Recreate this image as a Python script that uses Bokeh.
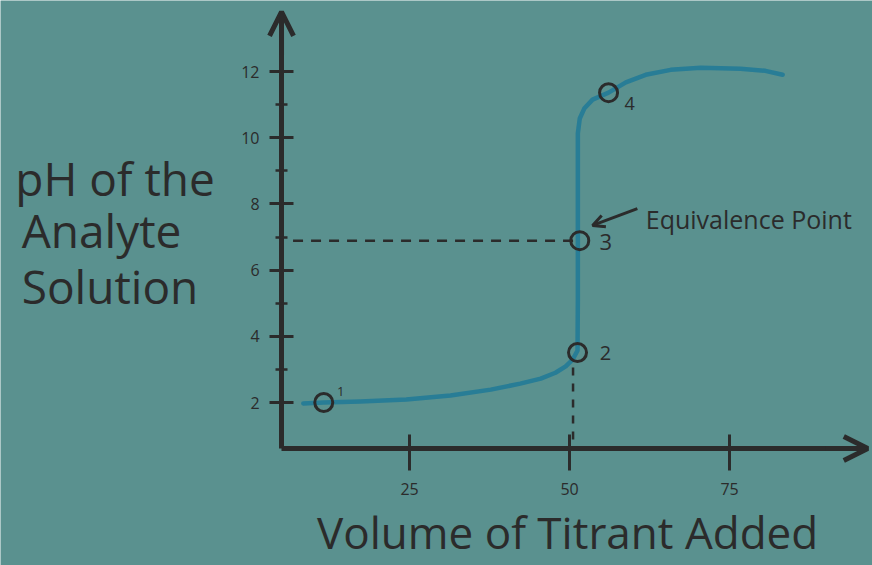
from bokeh.plotting import figure
from bokeh.models import Range1d, LinearAxis, FixedTicker, Arrow, OpenHead
from bokeh.core.properties import value
from bokeh.embed import file_html
from bokeh.resources import INLINE

# ---- data ----
titrant_ml = [8.4, 11.6, 17.3, 24.5, 31.4, 37.7, 42.3, 45.5, 47.8, 49.4, 50.5, 51.25,
              51.3, 51.3, 51.3, 51.3, 51.6, 52.3, 53.6, 56.1, 58.8, 61.9, 65.8, 70.5,
              76.7, 80.6, 83.3]
analyte_ph = [1.97, 2.0, 2.03, 2.09, 2.21, 2.39, 2.57, 2.72, 2.90, 3.09, 3.30, 3.57,
              5.08, 6.89, 8.71, 10.13, 10.58, 10.88, 11.15, 11.36, 11.67, 11.9, 12.05, 12.11,
              12.08, 12.02, 11.9]

point_ml = [11.6, 51.25, 51.6, 56.1]
point_ph = [2.0, 3.51, 6.89, 11.36]
point_labels = ["1", "2", "3", "4"]

x_ticks = [25, 50, 75]
y_ticks = [2, 4, 6, 8, 10, 12]
y_minor = [3, 5, 7, 9, 11]

x_title = "Volume of Titrant Added"
y_title = ["pH of the", "Analyte", "Solution"]
annotation = "Equivalence Point"

# ---- style ----
BG = "#5a918f"
INK = "#2b2b2b"
CURVE = "#287d96"
FONT = "Open Sans"

W, H = 872, 565
p = figure(width=W, height=H, output_backend="svg", toolbar_location=None,
           x_axis_type=None, y_axis_type=None,
           x_range=Range1d(-38.91, 97.34), y_range=Range1d(-2.924, 14.145),
           min_border=0, min_border_left=0, min_border_right=0,
           min_border_top=0, min_border_bottom=0)
p.background_fill_color = BG
p.border_fill_color = BG
p.outline_line_color = None

y_axis_at = 5.0
x_axis_at = 0.61

xaxis = LinearAxis(fixed_location=x_axis_at, bounds=(y_axis_at, 96.5),
                   ticker=FixedTicker(ticks=x_ticks))
yaxis = LinearAxis(fixed_location=y_axis_at, bounds=(x_axis_at, 13.8),
                   ticker=FixedTicker(ticks=y_ticks, minor_ticks=y_minor))
for ax in (xaxis, yaxis):
    ax.axis_line_width = 5
    ax.axis_line_color = INK
    ax.major_tick_line_color = INK
    ax.major_tick_line_width = 3
    ax.minor_tick_line_color = INK
    ax.minor_tick_line_width = 2.5
    ax.major_label_text_color = INK
    ax.major_label_text_font = FONT
    ax.major_label_text_font_size = "16px"
xaxis.major_tick_in = 14
xaxis.major_tick_out = 22
xaxis.major_label_standoff = 12
xaxis.minor_tick_in = 0
xaxis.minor_tick_out = 0
yaxis.major_tick_in = 12
yaxis.major_tick_out = 12
yaxis.minor_tick_in = 6
yaxis.minor_tick_out = 6
yaxis.major_label_standoff = 10
p.add_layout(xaxis, "below")
p.add_layout(yaxis, "left")

# axis arrow heads
p.add_layout(Arrow(end=OpenHead(size=24, line_width=5, line_color=INK),
                   x_start=y_axis_at, y_start=12.5, x_end=y_axis_at, y_end=13.8,
                   line_width=5, line_color=INK))
p.add_layout(Arrow(end=OpenHead(size=24, line_width=5, line_color=INK),
                   x_start=90, y_start=x_axis_at, x_end=96.6, y_end=x_axis_at,
                   line_width=5, line_color=INK))

# guide lines to the equivalence point
p.line([y_axis_at + 1.8, point_ml[2]], [point_ph[2], point_ph[2]],
       line_color=INK, line_width=2.5, line_dash="10 8")
p.line([point_ml[1] - 0.7, point_ml[1] - 0.7], [point_ph[1] - 0.45, x_axis_at],
       line_color=INK, line_width=2.5, line_dash="8 8")

# titration curve
p.line(titrant_ml, analyte_ph, line_color=CURVE, line_width=4.5, line_cap="round",
       line_join="round")

# points
p.scatter(point_ml, point_ph, marker="circle", size=18, fill_alpha=0,
          line_color=INK, line_width=3)

# point labels
offs_x = [17, 28, 26, 21]
offs_y = [-11, 0, 1, 11]
sizes = ["13px", "20px", "22px", "18px"]
for i in range(4):
    p.text([point_ml[i]], [point_ph[i]], text=[point_labels[i]], x_offset=offs_x[i],
           y_offset=offs_y[i], text_font=value(FONT), text_font_size=sizes[i],
           text_color=INK, text_baseline="middle", text_align="center")

# equivalence annotation
p.add_layout(Arrow(end=OpenHead(size=12, line_width=3, line_color=INK),
                   x_start=60.6, y_start=7.86, x_end=53.6, y_end=7.35,
                   line_width=3, line_color=INK))
p.text([point_ml[2]], [point_ph[2]], text=[annotation], x_offset=66, y_offset=-22,
       text_font=value(FONT), text_font_size="25px", text_color=INK,
       text_baseline="middle", text_align="left")

# axis titles
p.text([-36.6, -35.6, -35.6], [8.77, 7.2, 5.53], text=y_title,
       text_font=value(FONT), text_font_size="46px", text_color=INK,
       text_baseline="middle", text_align="left")
p.text([49.7], [-1.9], text=[x_title], text_font=value(FONT),
       text_font_size="44px", text_color=INK, text_baseline="middle",
       text_align="center")

open("out.html", "w").write(file_html(p, INLINE))
